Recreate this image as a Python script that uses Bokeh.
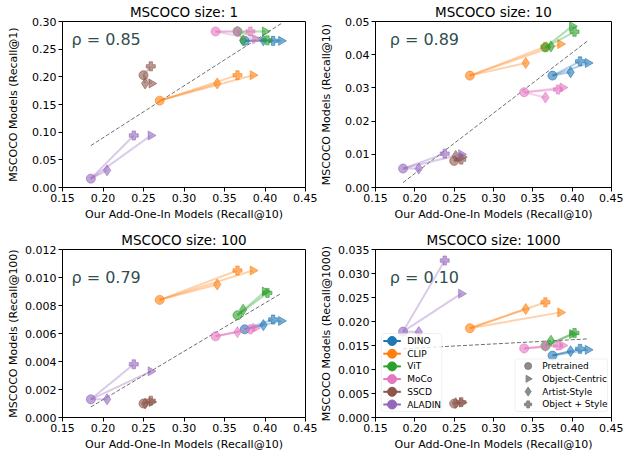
import numpy as np
from bokeh.plotting import figure
from bokeh.layouts import gridplot
from bokeh.models import (FixedTicker, PrintfTickFormatter, Label, Range1d,
                          BoxAnnotation)
from bokeh.embed import file_html
from bokeh.resources import INLINE

FONT = "DejaVu Sans"

models = ["DINO", "CLIP", "ViT", "MoCo", "SSCD", "ALADIN"]
colors = ["#1f77b4", "#ff7f0e", "#2ca02c", "#e377c2", "#8c564b", "#9467bd"]
variants = ["Pretrained", "Object-Centric", "Artist-Style", "Object + Style"]
markers = ["circle", "triangle", "diamond", "plus"]

# Our Add-One-In Models (Recall@10); order: pretrained, object-centric, artist-style, object+style
x_dino = [0.375, 0.420, 0.398, 0.410]
x_clip = [0.270, 0.385, 0.341, 0.366]
x_vit = [0.366, 0.400, 0.373, 0.403]
x_moco = [0.339, 0.388, 0.366, 0.382]
x_sscd = [0.250, 0.260, 0.252, 0.259]
x_aladin = [0.185, 0.259, 0.205, 0.238]

# MSCOCO size 1 (Recall@1)
y1_dino = [0.265, 0.265, 0.266, 0.265]
y1_clip = [0.157, 0.203, 0.188, 0.203]
y1_vit = [0.282, 0.282, 0.266, 0.266]
y1_moco = [0.282, 0.268, 0.282, 0.282]
y1_sscd = [0.203, 0.188, 0.188, 0.219]
y1_aladin = [0.016, 0.094, 0.031, 0.094]

# MSCOCO size 10 (Recall@10)
y10_dino = [0.0337, 0.0375, 0.0347, 0.0380]
y10_clip = [0.0337, 0.0432, 0.0375, 0.0424]
y10_vit = [0.0422, 0.0486, 0.0425, 0.0469]
y10_moco = [0.0287, 0.0301, 0.0271, 0.0295]
y10_sscd = [0.0080, 0.0092, 0.0095, 0.0084]
y10_aladin = [0.0057, 0.0100, 0.0057, 0.0102]

# MSCOCO size 100 (Recall@100)
y100_dino = [0.0063, 0.0069, 0.0066, 0.0070]
y100_clip = [0.0084, 0.0105, 0.0095, 0.0105]
y100_vit = [0.0073, 0.0090, 0.0077, 0.0089]
y100_moco = [0.0058, 0.0064, 0.0061, 0.0063]
y100_sscd = [0.0010, 0.0011, 0.0010, 0.0012]
y100_aladin = [0.0013, 0.0033, 0.0013, 0.0038]

# MSCOCO size 1000 (Recall@1000)
y1000_dino = [0.0129, 0.0141, 0.0138, 0.0143]
y1000_clip = [0.0186, 0.0219, 0.0226, 0.0240]
y1000_vit = [0.0149, 0.0174, 0.0160, 0.0176]
y1000_moco = [0.0144, 0.0150, 0.0149, 0.0150]
y1000_sscd = [0.0029, 0.0031, 0.0030, 0.0032]
y1000_aladin = [0.0179, 0.0258, 0.0178, 0.0327]

rho_values = [0.85, 0.89, 0.79, 0.10]
sizes = ["1", "10", "100", "1000"]
recall_k = ["1", "10", "100", "1000"]

x_ticks = [0.15, 0.20, 0.25, 0.30, 0.35, 0.40, 0.45]
y1_ticks = [0.00, 0.05, 0.10, 0.15, 0.20, 0.25, 0.30]
y10_ticks = [0.00, 0.01, 0.02, 0.03, 0.04, 0.05]
y100_ticks = [0.000, 0.002, 0.004, 0.006, 0.008, 0.010, 0.012]
y1000_ticks = [0.000, 0.005, 0.010, 0.015, 0.020, 0.025, 0.030, 0.035]

xs_all = [x_dino, x_clip, x_vit, x_moco, x_sscd, x_aladin]
ys_panels = [
    [y1_dino, y1_clip, y1_vit, y1_moco, y1_sscd, y1_aladin],
    [y10_dino, y10_clip, y10_vit, y10_moco, y10_sscd, y10_aladin],
    [y100_dino, y100_clip, y100_vit, y100_moco, y100_sscd, y100_aladin],
    [y1000_dino, y1000_clip, y1000_vit, y1000_moco, y1000_sscd, y1000_aladin],
]
ticks_panels = [y1_ticks, y10_ticks, y100_ticks, y1000_ticks]
fmt_panels = ["%.2f", "%.2f", "%.3f", "%.3f"]

# ---- layout (pixels) ----
widths = [317, 306, 317, 306]
heights = [223, 223, 230, 230]
border_left = [62, 52, 62, 52]
border_right = [12, 12, 12, 12]
border_top = [20, 20, 26, 26]
border_bottom = [36, 36, 36, 36]
ylabel_standoff = [9, 9, 2, 2]
rho_pos = [(0.161, 0.267), (0.168, 0.0445), (0.161, 0.0100), (0.168, 0.0292)]

angles = [0, -np.pi / 2, 0, 0]
msizes = [9, 9, 11, 9]

figs = []
for k in range(4):
    ticks = ticks_panels[k]
    p = figure(width=widths[k], height=heights[k], output_backend="svg",
               toolbar_location=None,
               x_range=Range1d(x_ticks[0], x_ticks[-1]),
               y_range=Range1d(ticks[0], ticks[-1]),
               min_border_left=border_left[k], min_border_right=border_right[k],
               min_border_top=border_top[k], min_border_bottom=border_bottom[k],
               title=f"MSCOCO size: {sizes[k]}")
    p.title.align = "center"
    p.title.text_font = FONT
    p.title.text_font_style = "normal"
    p.title.text_font_size = "13.5px"
    p.title.text_color = "black"
    p.title.standoff = 3
    p.xgrid.visible = False
    p.ygrid.visible = False
    p.outline_line_color = "black"
    p.outline_line_alpha = 1
    p.outline_line_width = 1
    p.background_fill_color = "white"
    p.border_fill_color = "white"

    p.xaxis.ticker = FixedTicker(ticks=x_ticks)
    p.xaxis.formatter = PrintfTickFormatter(format="%.2f")
    p.yaxis.ticker = FixedTicker(ticks=ticks)
    p.yaxis.formatter = PrintfTickFormatter(format=fmt_panels[k])
    p.xaxis.axis_label = "Our Add-One-In Models (Recall@10)"
    p.yaxis.axis_label = f"MSCOCO Models (Recall@{recall_k[k]})"
    for ax in (p.xaxis[0], p.yaxis[0]):
        ax.axis_label_text_font = FONT
        ax.axis_label_text_font_style = "normal"
        ax.axis_label_text_font_size = "11px"
        ax.axis_label_text_color = "black"
        ax.axis_label_standoff = 3
        ax.major_label_text_font = FONT
        ax.major_label_text_font_size = "11px"
        ax.major_label_text_color = "black"
        ax.major_label_standoff = 2
        ax.major_tick_out = 4
        ax.major_tick_in = 0
        ax.minor_tick_line_color = None
        ax.axis_line_color = "black"
        ax.major_tick_line_color = "black"
    p.yaxis[0].axis_label_standoff = ylabel_standoff[k]

    # regression line over all points
    allx = np.concatenate([np.array(v) for v in xs_all])
    ally = np.concatenate([np.array(v) for v in ys_panels[k]])
    slope, icpt = np.polyfit(allx, ally, 1)
    fx = np.array([allx.min(), allx.max()])
    p.line(fx, slope * fx + icpt, line_color="#707070", line_dash="4 2",
           line_width=1)

    for m in range(6):
        xv = xs_all[m]
        yv = ys_panels[k][m]
        c = colors[m]
        p.segment(x0=[xv[0]] * 3, y0=[yv[0]] * 3, x1=xv[1:], y1=yv[1:],
                  line_color=c, line_alpha=0.35, line_width=2)
        for i in range(4):
            p.scatter(x=[xv[i]], y=[yv[i]], marker=markers[i], size=msizes[i],
                      angle=angles[i], fill_color=c, line_color=c,
                      fill_alpha=0.6, line_alpha=0.6)

    rx, ry = rho_pos[k]
    p.add_layout(Label(x=rx, y=ry, text=f"ρ = {rho_values[k]:.2f}",
                       text_font=FONT, text_font_size="16px",
                       text_color="#2f4f4f", text_baseline="middle",
                       text_align="left"))
    figs.append(p)

# ---- legends drawn in the last panel (pixel layout converted to its data space) ----
p4 = figs[3]
F_L, F_R, F_T, F_B = 369, 611, 249, 417  # expected frame box of panel 4 (px)


def dx(px):
    return x_ticks[0] + (px - F_L) / (F_R - F_L) * (x_ticks[-1] - x_ticks[0])


def dy(py):
    return y1000_ticks[0] + (F_B - py) / (F_B - F_T) * (y1000_ticks[-1] - y1000_ticks[0])


def legend_box(l, r, t, b):
    p4.add_layout(BoxAnnotation(left=dx(l), right=dx(r), top=dy(t), bottom=dy(b),
                                fill_color="white", fill_alpha=0.8,
                                line_color="#cccccc", line_width=1,
                                border_radius=3, level="annotation"))


def legend_text(px, py, txt):
    p4.add_layout(Label(x=dx(px), y=dy(py), text=txt, text_font=FONT,
                        text_font_size="9px", text_color="black",
                        text_baseline="middle", text_align="left",
                        level="overlay"))


# model legend
legend_box(375, 437, 333, 411)
for i, (name, c) in enumerate(zip(models, colors)):
    cy = 340.5 + 12.7 * i
    p4.line(x=[dx(377), dx(395)], y=[dy(cy), dy(cy)], line_color=c,
            line_width=2, level="overlay")
    p4.scatter(x=[dx(386)], y=[dy(cy)], marker="circle", size=9,
               fill_color=c, line_color=c, level="overlay")
    legend_text(401.5, cy, name)

# variant legend
legend_box(512, 607, 358.5, 411)
for i, name in enumerate(variants):
    cy = 365.5 + 12.8 * i
    p4.scatter(x=[dx(525.5)], y=[dy(cy)], marker=markers[i], size=msizes[i] - 2,
               angle=angles[i], fill_color="#7f7f7f", line_color="#7f7f7f",
               fill_alpha=0.9, line_alpha=0.9, level="overlay")
    legend_text(540, cy, name)

grid = gridplot([[figs[0], figs[1]], [figs[2], figs[3]]], toolbar_location=None)
open("out.html", "w").write(file_html(grid, INLINE))
